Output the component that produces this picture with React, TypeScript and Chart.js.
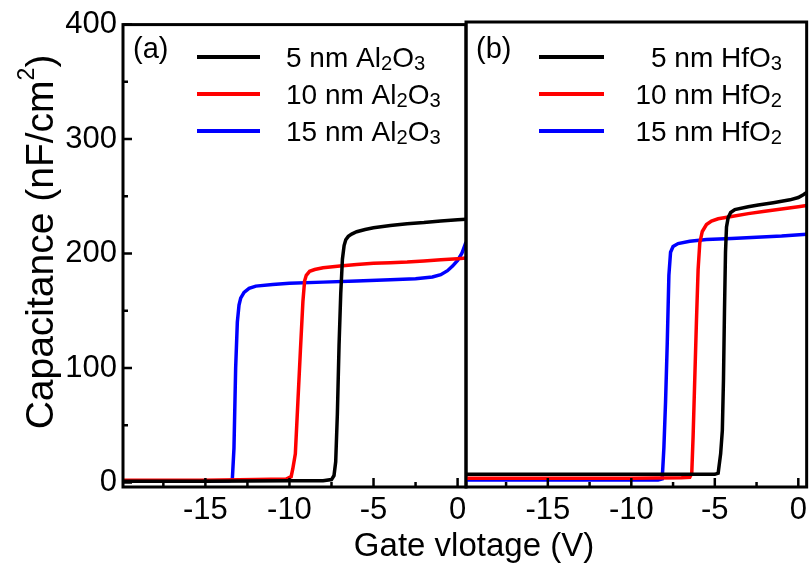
import React, { useEffect, useRef } from "react";
import { Chart, registerables } from "chart.js";

Chart.register(...registerables);

const FONT = "'Liberation Sans', Arial, Helvetica, sans-serif";

// Axes
const X_MIN = -19.9;
const X_MAX = 0.5;
const Y_MIN = -4;
const Y_MAX = 400;
const xMajor = [-15, -10, -5, 0];
const xMinor = [-17.5, -12.5, -7.5, -2.5];
const yMajor = [0, 100, 200, 300, 400];
const yMinor = [50, 150, 250, 350];

// Text
const xTitle = "Gate vlotage (V)";
const yTitleMain = "Capacitance (nF/cm";
const yTitleSup = "2";
const yTitleEnd = ")";
const aTag = "(a)";
const bTag = "(b)";
const aLabels = ["5 nm Al2O3", "10 nm Al2O3", "15 nm Al2O3"];
const bLabels = ["5 nm HfO3", "10 nm HfO2", "15 nm HfO2"];
const seriesColors = ["#000000", "#ff0000", "#0000ff"];

// Panel (a): Al2O3
const aBlackV = [-19.9, -15, -10, -8, -7.5, -7.35, -7.25, -7.15, -7.05, -6.95, -6.85, -6.75, -6.65, -6.5, -6.3, -6.0, -5.5, -5.0, -4.0, -3.0, -2.0, -1.0, 0, 0.5];
const aBlackC = [1, 1, 1.5, 1.5, 2.5, 6, 18, 60, 120, 165, 195, 207, 212, 215, 217, 219, 221, 222.5, 224.5, 226, 227, 228.5, 229.5, 230];
const aRedV = [-19.9, -15, -12, -10.2, -9.9, -9.8, -9.65, -9.5, -9.35, -9.2, -9.1, -9.0, -8.8, -8.5, -8.0, -7.0, -6.0, -5.0, -4.0, -3.0, -2.0, -1.0, 0, 0.5];
const aRedC = [2, 2, 2.5, 3, 5, 12, 25, 70, 115, 158, 176, 181, 184.5, 186, 187.5, 189, 190.5, 191.5, 192, 192.5, 193.5, 194.5, 195.5, 196];
const aBlueV = [-19.9, -15, -13.6, -13.4, -13.3, -13.2, -13.1, -13.0, -12.9, -12.7, -12.4, -12.0, -11.0, -10.0, -8.0, -6.0, -4.0, -2.5, -1.5, -1.0, -0.6, -0.3, 0, 0.25, 0.5];
const aBlueC = [1.5, 1.5, 1.5, 2, 30, 100, 140, 155, 161, 166, 169.5, 171.5, 173, 174, 175, 176, 177, 178, 179.5, 181.5, 185, 189, 194, 200, 210];

// Panel (b): HfO2
const bBlackV = [-19.9, -15, -10, -6, -5.0, -4.8, -4.65, -4.55, -4.48, -4.42, -4.36, -4.3, -4.2, -4.05, -3.8, -3.0, -2.4, -1.5, -0.5, 0, 0.3, 0.5];
const bBlackC = [7, 7, 7, 7, 7, 8, 25, 45, 90, 150, 200, 222, 230, 234.5, 237, 239.5, 241, 243, 245.5, 247.5, 250, 252];
const bRedV = [-19.9, -15, -10, -7.0, -6.5, -6.38, -6.3, -6.2, -6.1, -6.0, -5.9, -5.75, -5.5, -5.2, -4.8, -4.0, -3.0, -2.0, -1.0, 0, 0.5];
const bRedC = [3.5, 3.5, 3.5, 4, 4.5, 8, 40, 90, 140, 185, 208, 218, 224, 227, 229, 231, 233.5, 235.5, 237.5, 239.5, 240.5];
const bBlueV = [-19.9, -15, -10, -8.4, -8.15, -8.05, -7.95, -7.85, -7.75, -7.65, -7.5, -7.2, -6.5, -5.5, -4.0, -2.5, -1.0, 0.5];
const bBlueC = [2, 2, 2, 2, 3, 30, 70, 120, 180, 200, 205, 207.5, 209.5, 211, 212, 213, 214, 215.5];

type Seg = { t: string; sub: boolean };

function splitFormula(label: string): Seg[] {
  const out: Seg[] = [];
  for (let i = 0; i < label.length; i++) {
    const ch = label[i];
    const sub = /\d/.test(ch) && i > 0 && /[A-Za-z]/.test(label[i - 1]);
    const last = out[out.length - 1];
    if (last && last.sub === sub) last.t += ch;
    else out.push({ t: ch, sub });
  }
  return out;
}

function drawRich(ctx: CanvasRenderingContext2D, label: string, x: number, y: number, size: number, align: "left" | "right") {
  const parts = splitFormula(label);
  const widths = parts.map((p) => {
    ctx.font = `${p.sub ? size * 0.72 : size}px ${FONT}`;
    return ctx.measureText(p.t).width;
  });
  const total = widths.reduce((s, w) => s + w, 0);
  let cx = align === "right" ? x - total : x;
  ctx.textAlign = "left";
  ctx.textBaseline = "alphabetic";
  parts.forEach((p, i) => {
    ctx.font = `${p.sub ? size * 0.72 : size}px ${FONT}`;
    ctx.fillText(p.t, cx, p.sub ? y + size * 0.12 : y);
    cx += widths[i];
  });
}

type PanelOpts = {
  tag: string;
  labels: string[];
  yTicks: boolean;
  legendLine: [number, number];
  textX: number;
  textAlign: "left" | "right";
  titles: boolean;
};

function panelPlugin(o: PanelOpts) {
  return {
    id: "panelDecor",
    afterDraw(chart: any) {
      const { ctx, chartArea: a, scales } = chart;
      const xs = scales.x;
      const ys = scales.y;
      ctx.save();
      ctx.strokeStyle = "#000";
      ctx.lineWidth = 3;
      ctx.strokeRect(a.left, a.top, a.right - a.left, a.bottom - a.top);
      ctx.lineWidth = 2.5;
      ctx.beginPath();
      for (const v of xMajor) {
        const px = xs.getPixelForValue(v);
        ctx.moveTo(px, a.bottom);
        ctx.lineTo(px, a.bottom - 9);
      }
      for (const v of xMinor) {
        const px = xs.getPixelForValue(v);
        ctx.moveTo(px, a.bottom);
        ctx.lineTo(px, a.bottom - 5);
      }
      if (o.yTicks) {
        for (const v of yMajor) {
          const py = ys.getPixelForValue(v);
          ctx.moveTo(a.left, py);
          ctx.lineTo(a.left + 9, py);
        }
        for (const v of yMinor) {
          const py = ys.getPixelForValue(v);
          ctx.moveTo(a.left, py);
          ctx.lineTo(a.left + 5, py);
        }
      }
      ctx.stroke();

      // panel tag
      ctx.fillStyle = "#000";
      ctx.font = `29px ${FONT}`;
      ctx.textAlign = "left";
      ctx.textBaseline = "alphabetic";
      ctx.fillText(o.tag, a.left + 10, 58);

      // legend
      const rows = [57, 94, 131];
      o.labels.forEach((lab, i) => {
        ctx.strokeStyle = seriesColors[i];
        ctx.lineWidth = 4;
        ctx.beginPath();
        ctx.moveTo(a.left + o.legendLine[0], rows[i]);
        ctx.lineTo(a.left + o.legendLine[1], rows[i]);
        ctx.stroke();
        ctx.fillStyle = "#000";
        drawRich(ctx, lab, a.left + o.textX, rows[i] + 10, 28, o.textAlign);
      });

      if (o.titles) {
        // x title
        ctx.fillStyle = "#000";
        ctx.font = `33px ${FONT}`;
        ctx.textAlign = "center";
        ctx.textBaseline = "alphabetic";
        ctx.fillText(xTitle, 474, 556);

        // y title (rotated)
        const size = 39;
        const supSize = 23;
        ctx.save();
        ctx.translate(42, 242);
        ctx.rotate(-Math.PI / 2);
        ctx.font = `${size}px ${FONT}`;
        const w1 = ctx.measureText(yTitleMain).width;
        const w3 = ctx.measureText(yTitleEnd).width;
        ctx.font = `${supSize}px ${FONT}`;
        const w2 = ctx.measureText(yTitleSup).width;
        const total = w1 + w2 + w3;
        let cx = -total / 2;
        ctx.textAlign = "left";
        ctx.textBaseline = "middle";
        ctx.font = `${size}px ${FONT}`;
        ctx.fillText(yTitleMain, cx, 0);
        cx += w1;
        ctx.font = `${supSize}px ${FONT}`;
        ctx.fillText(yTitleSup, cx, -size * 0.36);
        cx += w2;
        ctx.font = `${size}px ${FONT}`;
        ctx.fillText(yTitleEnd, cx, 0);
        ctx.restore();
      }
      ctx.restore();
    },
  };
}

function makeDatasets(vs: number[][], cs: number[][], labels: string[]) {
  return vs.map((v, i) => ({
    label: labels[i],
    data: v.map((x, j) => ({ x, y: cs[i][j] })),
    borderColor: seriesColors[i],
    backgroundColor: seriesColors[i],
    borderWidth: 3.5,
    pointRadius: 0,
    tension: 0,
    fill: false,
  }));
}

function makeOptions(padding: any, showY: boolean) {
  return {
    responsive: false,
    maintainAspectRatio: false,
    animation: false as const,
    devicePixelRatio: 1,
    layout: { padding },
    plugins: { legend: { display: false }, tooltip: { enabled: false } },
    scales: {
      x: {
        type: "linear" as const,
        min: X_MIN,
        max: X_MAX,
        grid: { display: false, drawTicks: false },
        border: { display: false },
        ticks: {
          color: "#000",
          font: { family: FONT, size: 31 },
          padding: 5,
          autoSkip: false,
          maxRotation: 0,
          callback: (v: any) => String(v),
        },
        afterBuildTicks: (s: any) => {
          s.ticks = xMajor.map((value) => ({ value }));
        },
        afterFit: (s: any) => {
          s.height = 77;
        },
      },
      y: {
        type: "linear" as const,
        display: showY,
        min: Y_MIN,
        max: Y_MAX,
        grid: { display: false, drawTicks: false },
        border: { display: false },
        ticks: {
          color: "#000",
          font: { family: FONT, size: 31 },
          padding: 6,
          callback: (v: any) => String(v),
        },
        afterBuildTicks: (s: any) => {
          s.ticks = yMajor.map((value) => ({ value }));
        },
        afterFit: (s: any) => {
          s.width = showY ? 123 : 0;
        },
      },
    },
  };
}

export default function App() {
  const leftRef = useRef<HTMLCanvasElement | null>(null);
  const rightRef = useRef<HTMLCanvasElement | null>(null);

  useEffect(() => {
    if (!leftRef.current || !rightRef.current) return;
    const left = new Chart(leftRef.current, {
      type: "line",
      data: {
        datasets: makeDatasets([aBlackV, aRedV, aBlueV], [aBlackC, aRedC, aBlueC], aLabels),
      },
      options: makeOptions({ top: 22, right: 346, bottom: 0, left: 0 }, true) as any,
      plugins: [
        panelPlugin({
          tag: aTag,
          labels: aLabels,
          yTicks: true,
          legendLine: [74, 137],
          textX: 163,
          textAlign: "left",
          titles: true,
        }),
      ],
    });
    const right = new Chart(rightRef.current, {
      type: "line",
      data: {
        datasets: makeDatasets([bBlackV, bRedV, bBlueV], [bBlackC, bRedC, bBlueC], bLabels),
      },
      options: makeOptions({ top: 22, right: 3, bottom: 0, left: 2 }, false) as any,
      plugins: [
        panelPlugin({
          tag: bTag,
          labels: bLabels,
          yTicks: false,
          legendLine: [73, 138],
          textX: 316,
          textAlign: "right",
          titles: false,
        }),
      ],
    });
    return () => {
      left.destroy();
      right.destroy();
    };
  }, []);

  return (
    <div style={{ position: "fixed", left: 0, top: 0, width: 812, height: 564, background: "#fff" }}>
      <canvas
        ref={leftRef}
        width={812}
        height={564}
        style={{ position: "absolute", left: 0, top: 0, width: 812, height: 564 }}
      />
      <canvas
        ref={rightRef}
        width={348}
        height={564}
        style={{ position: "absolute", left: 464, top: 0, width: 348, height: 564 }}
      />
    </div>
  );
}
